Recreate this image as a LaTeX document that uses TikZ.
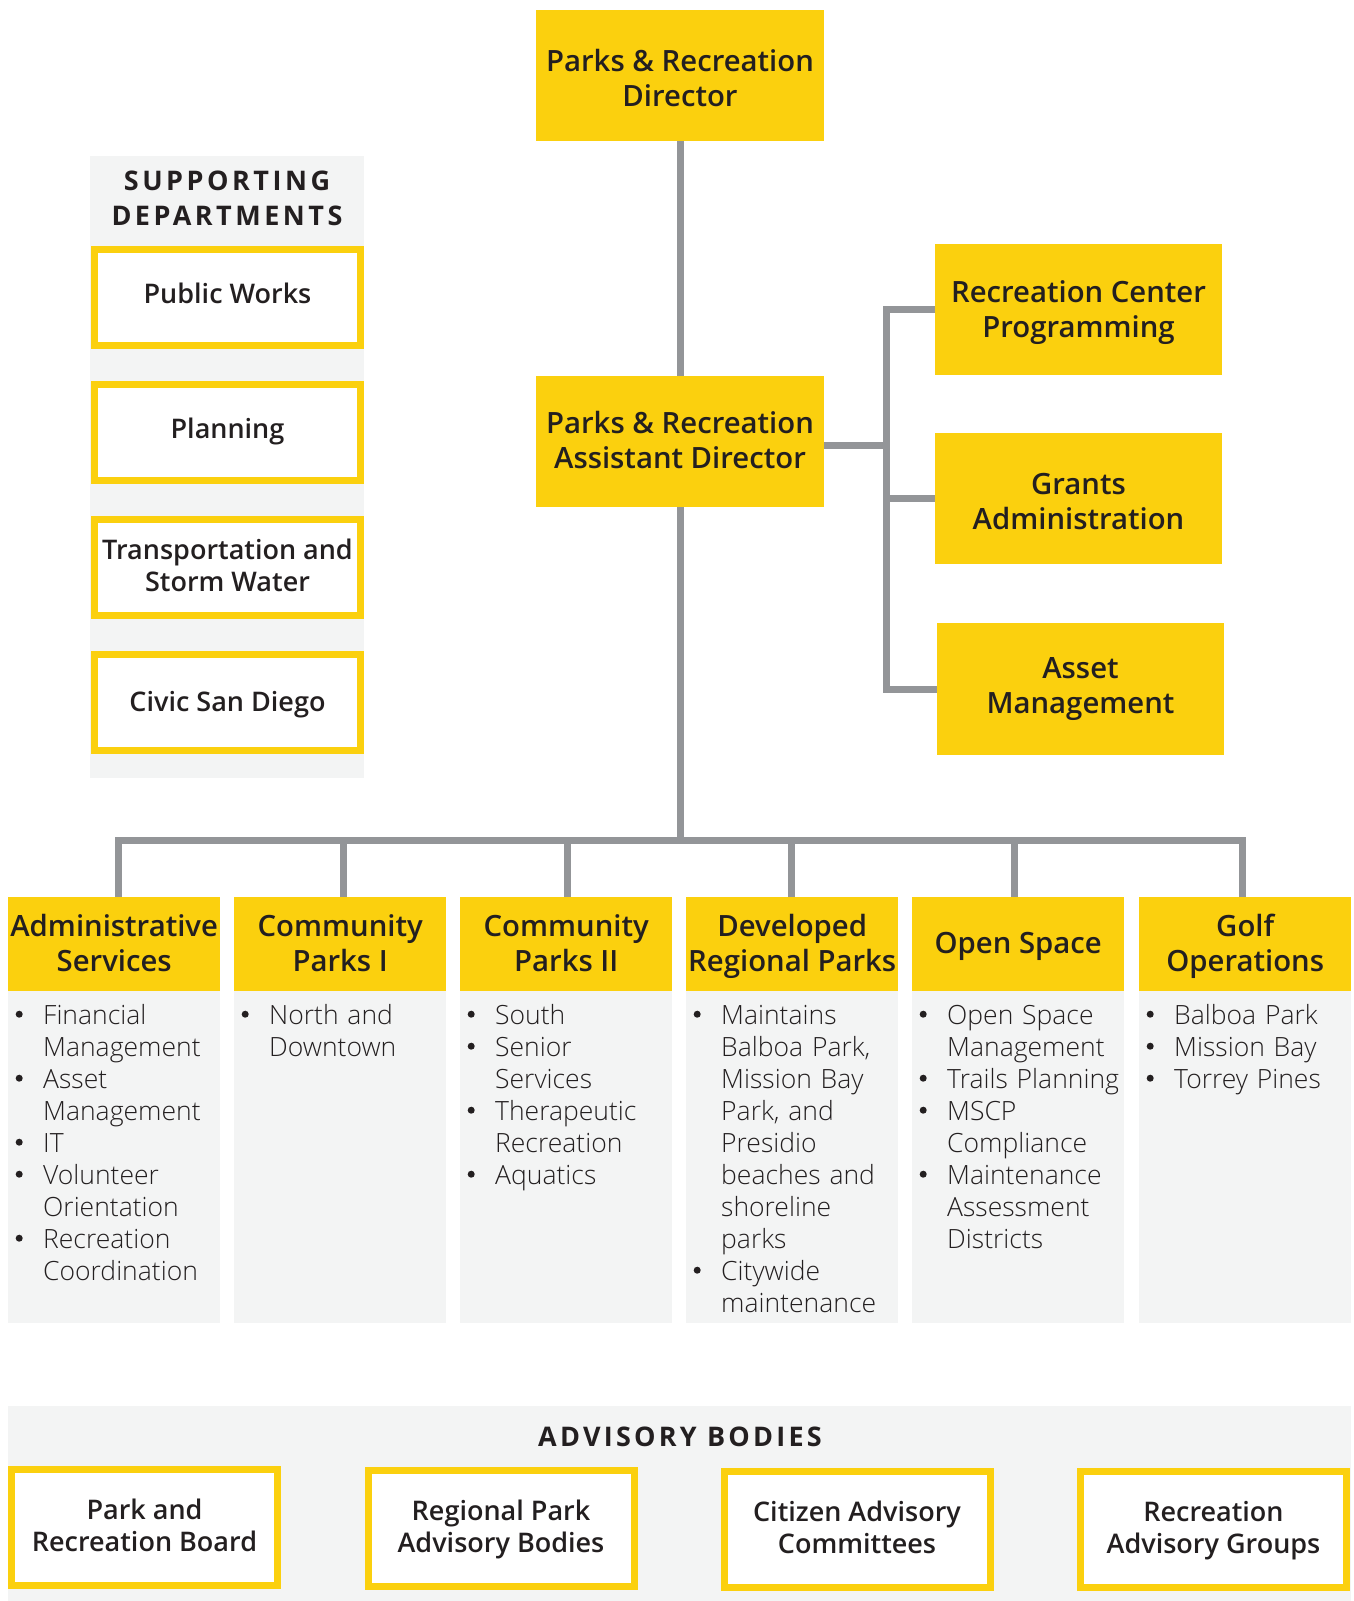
\documentclass[tikz,border=0pt]{standalone}
\usepackage{fontspec}
\setmainfont{Open Sans}[UprightFont={Open Sans Light}, BoldFont={Open Sans Bold}]
\IfFontExistsTF{Open Sans Semibold}{\newfontfamily\semib{Open Sans Semibold}\def\hsz{29.3}}{%
  \IfFontExistsTF{Open Sans SemiBold}{\newfontfamily\semib{Open Sans SemiBold}\def\hsz{29.3}}{%
    \newfontfamily\semib{Open Sans Bold}\def\hsz{28}}}
\definecolor{ylw}{HTML}{FBD00E}
\definecolor{lgray}{HTML}{F3F4F4}
\definecolor{lnc}{HTML}{939598}
\definecolor{txt}{HTML}{231F20}
\newcommand\bul[1]{\par\hangindent=35pt\hangafter=1\noindent\hbox to 35pt{\strut\hspace{7.5pt}\tikz[baseline=-10pt]\fill[txt] (0pt,0pt) circle[radius=3.5pt];\hfil}#1\par}
\tikzset{
  ybox/.style={fill=ylw, inner sep=0pt, align=center, text=txt,
    font=\semib\fontsize{\hsz}{35}\selectfont},
  ylbl/.style={inner sep=0pt, align=center, text=txt,
    font=\semib\fontsize{\hsz}{35}\selectfont},
  obox/.style={draw=ylw, line width=7pt, fill=white, inner sep=0pt, align=center, text=txt,
    minimum width=266pt, font=\semib\fontsize{27}{32}\selectfont, text depth=5pt},
  oboxone/.style={obox, text height=20pt, text depth=13pt},
  hdr/.style={ybox, anchor=north west, minimum width=212pt, minimum height=94pt, text depth=3pt},
  bodybox/.style={fill=lgray, anchor=north west, minimum width=212pt, minimum height=332pt, inner sep=0pt},
  listtxt/.style={anchor=north west, inner sep=0pt, text width=215pt, text=txt,
    font=\fontsize{26.5}{32}\selectfont},
  conn/.style={draw=lnc, line width=7pt},
  ttl/.style={text=txt, align=center, inner sep=0pt,
    font=\bfseries\fontsize{27}{35}\selectfont\addfontfeatures{LetterSpace=13}},
}
\begin{document}
\begin{tikzpicture}[x=1pt,y=-1pt]
\useasboundingbox (0,0) rectangle (1354,1601);
\fill[white] (0,0) rectangle (1354,1601);
% panels
\fill[lgray] (90,156) rectangle (364,778);
\fill[lgray] (8,1406) rectangle (1351,1601);

% top
\node[ybox, minimum width=288pt, minimum height=131pt,
  label={[ylbl, yshift=-2.5pt]center:{Parks \& Recreation\\Director}}] (dir) at (680,75.5) {};
\node[ybox, minimum width=288pt, minimum height=131pt, text depth=4pt] (asst) at (680,441.5) {Parks \& Recreation\\Assistant Director};
\node[ybox, minimum width=287pt, minimum height=131pt, text depth=-1pt] (rec) at (1078.5,309.5) {Recreation Center\\Programming};
\node[ybox, minimum width=287pt, minimum height=131pt,
  label={[ylbl, yshift=-3pt]center:{Grants\\Administration}}] (grants) at (1078.5,498.5) {};
\node[ybox, minimum width=287pt, minimum height=132pt] (asset) at (1080.5,689) {Asset\\Management};

% supporting departments
\node[ttl] (suptitle) at (227,198) {SUPPORTING\\DEPARTMENTS};
\node[oboxone, minimum height=96pt, text depth=9pt] (pw) at (227.5,297.5) {Public Works};
\node[oboxone, minimum height=96pt, text depth=7pt] (plan) at (227.5,432) {Planning};
\node[obox, minimum height=96pt] (trans) at (227.5,567.5) {Transportation and\\Storm Water};
\node[oboxone, minimum height=96pt, text depth=3pt] (civic) at (227.5,702.5) {Civic San Diego};

% column bodies
\node[bodybox] (b1) at (8,991) {};
\node[bodybox] (b2) at (234,991) {};
\node[bodybox] (b3) at (460,991) {};
\node[bodybox] (b4) at (686,991) {};
\node[bodybox] (b5) at (912,991) {};
\node[bodybox] (b6) at (1139,991) {};

% column headers
\node[hdr] (c1) at (8,897) {Administrative\\Services};
\node[hdr] (c2) at (234,897) {Community\\Parks I};
\node[hdr] (c3) at (460,897) {Community\\Parks II};
\node[hdr] (c4) at (686,897) {Developed\\Regional Parks};
\node[hdr] (c5) at (912,897) {Open Space};
\node[hdr] (c6) at (1139,897) {Golf\\Operations};

% lists
\node[listtxt] (l1) at (8,992) {\bul{Financial\newline Management}\bul{Asset\newline Management}\bul{IT}\bul{Volunteer\newline Orientation}\bul{Recreation\newline Coordination}};
\node[listtxt] (l2) at (234,992) {\bul{North and\newline Downtown}};
\node[listtxt] (l3) at (460,992) {\bul{South}\bul{Senior\newline Services}\bul{Therapeutic\newline Recreation}\bul{Aquatics}};
\node[listtxt] (l4) at (686,992) {\bul{Maintains\newline Balboa Park,\newline Mission Bay\newline Park, and\newline Presidio\newline beaches and\newline shoreline\newline parks}\bul{Citywide\newline maintenance}};
\node[listtxt] (l5) at (912,992) {\bul{Open Space\newline Management}\bul{Trails Planning}\bul{MSCP\newline Compliance}\bul{Maintenance\newline Assessment\newline Districts}};
\node[listtxt] (l6) at (1139,992) {\bul{Balboa Park}\bul{Mission Bay}\bul{Torrey Pines}};

% advisory bodies
\node[ttl, font=\bfseries\fontsize{27}{35}\selectfont\addfontfeatures{LetterSpace=12}] (advtitle) at (680,1437) {ADVISORY BODIES};
\node[obox, minimum height=116pt] (a1) at (144.5,1527.5) {Park and\\Recreation Board};
\node[obox, minimum height=116pt] (a2) at (501,1528.5) {Regional Park\\Advisory Bodies};
\node[obox, minimum height=116pt] (a3) at (857,1529.5) {Citizen Advisory\\Committees};
\node[obox, minimum height=116pt] (a4) at (1213.5,1529.5) {Recreation\\Advisory Groups};

% connectors
\coordinate (rb) at (886,0);
\coordinate (bus) at (0,840);
\draw[conn] (dir.south) -- (asst.north);
\draw[conn] ([yshift=-3.5pt]asst.east) -- ([yshift=-3.5pt]asst.east -| rb);
\draw[conn] (rec.west) -| (asset.west -| rb) -- (asset.west);
\draw[conn] (grants.west) -- (grants.west -| rb);
\draw[conn] (asst.south) -- (asst.south |- bus);
\draw[conn] ([xshift=4.6pt]c1.north) |- ([xshift=-3pt]c6.north |- bus) -- ([xshift=-3pt]c6.north);
\draw[conn] ([xshift=3.6pt]c2.north) -- ([xshift=3.6pt]c2.north |- bus);
\draw[conn] ([xshift=1pt]c3.north) -- ([xshift=1pt]c3.north |- bus);
\draw[conn] ([xshift=-1pt]c4.north) -- ([xshift=-1pt]c4.north |- bus);
\draw[conn] ([xshift=-3.6pt]c5.north) -- ([xshift=-3.6pt]c5.north |- bus);
\end{tikzpicture}
\end{document}
